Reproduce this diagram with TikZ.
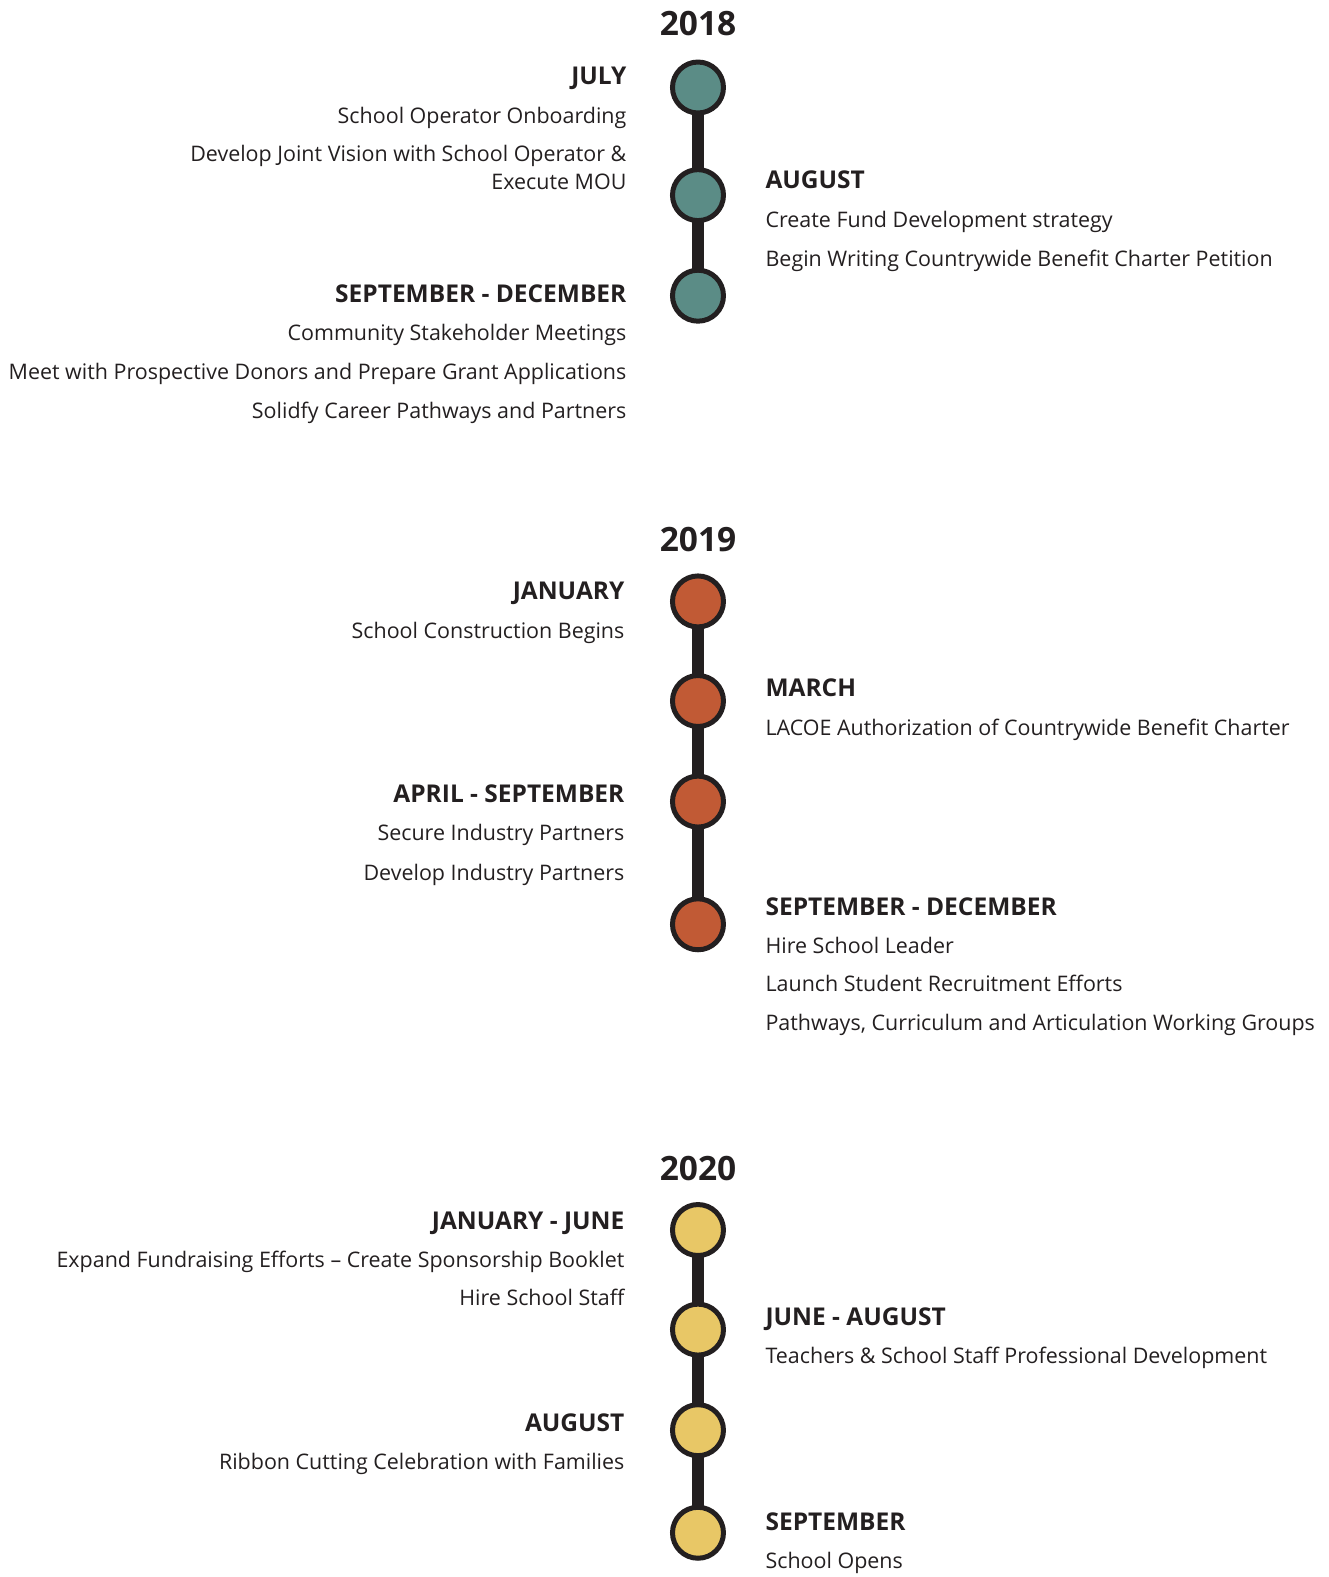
\documentclass[tikz,border=0pt]{standalone}
\usepackage{fontspec}
\setmainfont{Open Sans}
\definecolor{ink}{HTML}{231F20}
\definecolor{teal18}{HTML}{5B8C86}
\definecolor{rust19}{HTML}{C15A35}
\definecolor{gold20}{HTML}{E8C766}
\tikzset{
  yearlbl/.style={font=\fontsize{33.5}{38}\selectfont\bfseries, text=ink, anchor=base, inner sep=0pt},
  headL/.style={font=\fontsize{24.5}{28}\selectfont\bfseries, text=ink, anchor=base east, inner sep=0pt},
  headR/.style={font=\fontsize{24.5}{28}\selectfont\bfseries, text=ink, anchor=base west, inner sep=0pt},
  itemL/.style={font=\fontsize{21.45}{25}\selectfont, text=ink, anchor=base east, inner sep=0pt},
  itemR/.style={font=\fontsize{21.45}{25}\selectfont, text=ink, anchor=base west, inner sep=0pt},
  dot/.style={circle, draw=ink, line width=5pt, minimum size=51pt, inner sep=0pt},
  spine/.style={draw=ink, line width=12pt},
}
\begin{document}
\begin{tikzpicture}[x=1.00606pt,y=-1.00606pt]
\useasboundingbox (0,0) rectangle (1321,1568);
% ---------------- 2018 ----------------
\node[yearlbl] (y18) at (694,35) {2018};
\coordinate (a1) at (694,87);
\coordinate (a2) at (694,194);
\coordinate (a3) at (694,294);
\draw[spine] (a1) -- (a3);
\node[dot, fill=teal18] (d18a) at (a1) {};
\node[dot, fill=teal18] (d18b) at (a2) {};
\node[dot, fill=teal18] (d18c) at (a3) {};
\node[headL] (h18a) at (623,84) {JULY};
\node[itemL] (t18a1) at (623,123) {School Operator Onboarding};
\node[itemL] (t18a2) at (623,161) {Develop Joint Vision with School Operator \&};
\node[itemL] (t18a3) at (623,188) {Execute MOU};
\node[headR] (h18b) at (761,187) {AUGUST};
\node[itemR] (t18b1) at (761,226) {Create Fund Development strategy};
\node[itemR] (t18b2) at (761,265) {Begin Writing Countrywide Benefit Charter Petition};
\node[headL] (h18c) at (623,301) {SEPTEMBER - DECEMBER};
\node[itemL] (t18c1) at (623,339) {Community Stakeholder Meetings};
\node[itemL] (t18c2) at (623,377) {Meet with Prospective Donors and Prepare Grant Applications};
\node[itemL] (t18c3) at (623,416) {Solidfy Career Pathways and Partners};
% ---------------- 2019 ----------------
\node[yearlbl] (y19) at (694,548) {2019};
\coordinate (b1) at (694,598);
\coordinate (b2) at (694,697);
\coordinate (b3) at (694,797);
\coordinate (b4) at (694,919);
\draw[spine] (b1) -- (b4);
\node[dot, fill=rust19] (d19a) at (b1) {};
\node[dot, fill=rust19] (d19b) at (b2) {};
\node[dot, fill=rust19] (d19c) at (b3) {};
\node[dot, fill=rust19] (d19d) at (b4) {};
\node[headL] (h19a) at (621,596) {JANUARY};
\node[itemL] (t19a1) at (621,635) {School Construction Begins};
\node[headR] (h19b) at (761,693) {MARCH};
\node[itemR] (t19b1) at (761,731) {LACOE Authorization of Countrywide Benefit Charter};
\node[headL] (h19c) at (621,798) {APRIL - SEPTEMBER};
\node[itemL] (t19c1) at (621,836) {Secure Industry Partners};
\node[itemL] (t19c2) at (621,875) {Develop Industry Partners};
\node[headR] (h19d) at (761,910) {SEPTEMBER - DECEMBER};
\node[itemR] (t19d1) at (761,948) {Hire School Leader};
\node[itemR] (t19d2) at (761,986) {Launch Student Recruitment Efforts};
\node[itemR] (t19d3) at (761,1025) {Pathways, Curriculum and Articulation Working Groups};
% ---------------- 2020 ----------------
\node[yearlbl] (y20) at (694,1174) {2020};
\coordinate (c1) at (694,1223);
\coordinate (c2) at (694,1322);
\coordinate (c3) at (694,1422);
\coordinate (c4) at (694,1524);
\draw[spine] (c1) -- (c4);
\node[dot, fill=gold20] (d20a) at (c1) {};
\node[dot, fill=gold20] (d20b) at (c2) {};
\node[dot, fill=gold20] (d20c) at (c3) {};
\node[dot, fill=gold20] (d20d) at (c4) {};
\node[headL] (h20a) at (621,1222) {JANUARY - JUNE};
\node[itemL] (t20a1) at (621,1260) {Expand Fundraising Efforts -- Create Sponsorship Booklet};
\node[itemL] (t20a2) at (621,1298) {Hire School Staff};
\node[headR] (h20b) at (761,1318) {JUNE - AUGUST};
\node[itemR] (t20b1) at (761,1356) {Teachers \& School Staff Professional Development};
\node[headL] (h20c) at (621,1423) {AUGUST};
\node[itemL] (t20c1) at (621,1461) {Ribbon Cutting Celebration with Families};
\node[headR] (h20d) at (761,1522) {SEPTEMBER};
\node[itemR] (t20d1) at (761,1560) {School Opens};
\end{tikzpicture}
\end{document}
